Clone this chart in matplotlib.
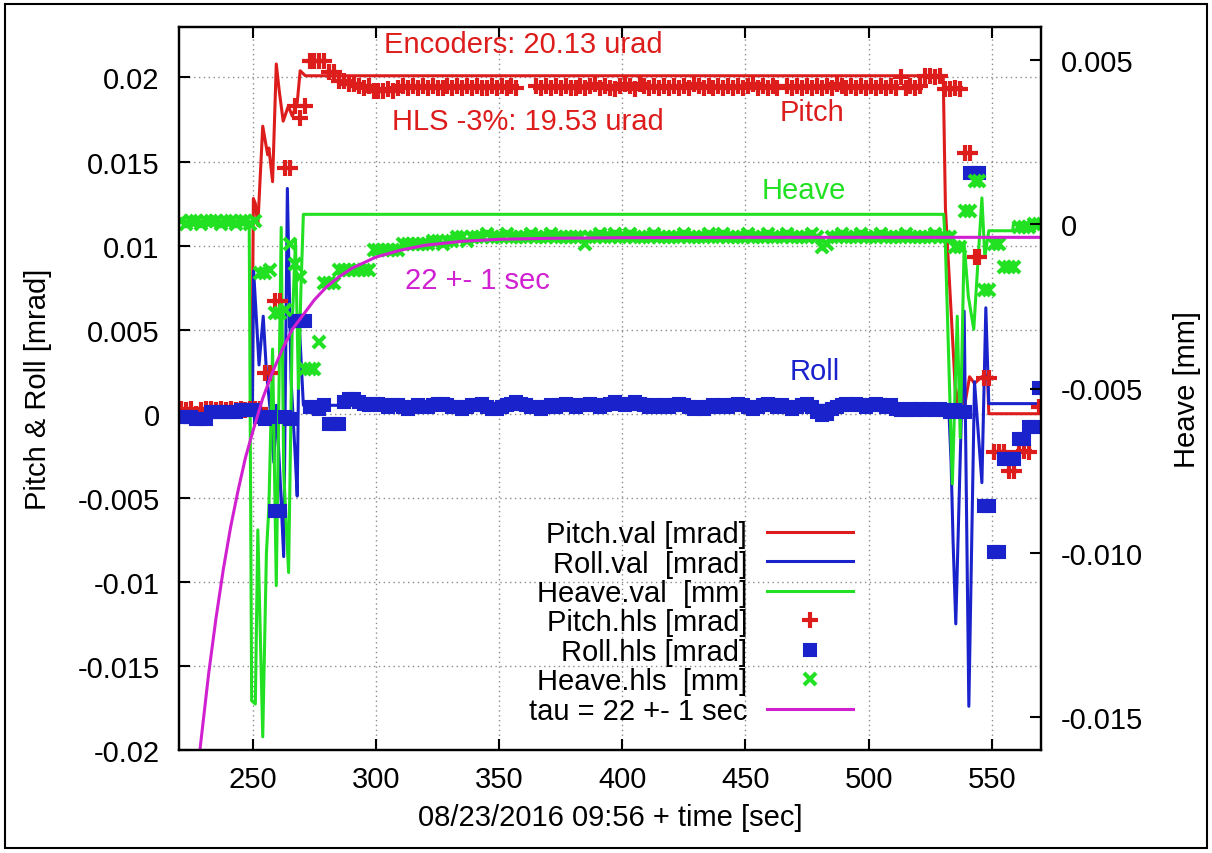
import numpy as np
import matplotlib
matplotlib.use("Agg")
import matplotlib.pyplot as plt
from matplotlib.patches import Rectangle

plt.rcParams['font.family'] = ['Liberation Sans', 'DejaVu Sans']

nan = np.nan

# encoder values (lines), pitch & roll in urad, heave in um
pitch_val_t = [220, 249.5, 250.2, 251, 252, 254, 256, 256.5, 258, 259.5, 260.7, 262.3,
               264.4, 266, 268, 269.2, 271.3, 530.3, 531.2, 534.6, 535.5, 537.5, 539,
               541, 543, 546, 548.3, 548.8, 570]
pitch_val = [0.0, 0.0, 12.8, 12.5, 11.2, 17.1, 15.4, 15.8, 13.8, 20.8, 19.2, 17.4,
             18.3, 17.7, 18.5, 20.4, 20.1, 20.1, 12.2, 3.1, 0.5, 2.0, 0.5,
             2.2, 1.8, 2.2, 2.3, 0.0, 0.0]

roll_val_t = [220, 249.8, 250.3, 252.5, 254.2, 255.5, 257.5, 258.5, 259.5, 261, 262.5,
              264, 265.5, 267, 268, 268.8, 270.5, 532.5, 533.5, 534.3, 535.4, 538.8,
              540.7, 543, 546, 547.6, 548.8, 570]
roll_val = [0.2, 0.2, 8.5, 2.9, 5.8, 2.5, -0.5, -2.9, 0.5, -3.7, -8.5,
            13.4, 2.0, -2.0, -4.9, 5.4, 0.5, 0.5, -2.9, -7.6, -12.5, 6.1,
            -17.4, 1.9, -4.1, 6.3, 0.6, 0.6]

heave_val_t = [220, 248.5, 249.5, 251, 252, 254, 255.5, 256.5, 258, 259.5, 261.5, 262.5,
               264.5, 266, 267.3, 268.5, 269.5, 270.5, 530.5, 531.2, 534, 536, 537.2,
               538.8, 540.5, 542.7, 546, 547.2, 548.8, 558.5, 558.8, 570]
heave_val = [0.1, 0.1, -14.5, -14.6, -9.3, -15.6, -10.0, -8.6, -3.8, -11.0, -0.1, -7.5,
             -10.6, -3.0, -0.5, -5.0, -2.0, 0.3, 0.3, -0.7, -7.9, -2.8, -6.5,
             -0.6, -2.2, -3.2, 0.8, -1.0, -0.2, -0.2, 0.0, 0.0]

# HLS samples, one every 2 s from 221 to 569
hls_t = np.arange(221, 570, 2)

pitch_hls = [
    0.3, 0.2, 0.3, 0.0, 0.2, 0.3, 0.3, 0.2, 0.3, 0.2,            # 221-239
    0.3, 0.2, 0.3, 0.2, 0.3, 0.3, 0.3, 2.4, 2.4, 6.7,            # 241-259
    6.7, 14.6, 14.6, 18.3, 17.6, 18.3, 21.0, 21.0, 21.0, 21.0,   # 261-279
    20.3, 20.3, 19.8, 19.8, 19.6, 19.6, 19.5, 19.4, 19.5, 19.2,  # 281-299
    19.2, 19.2, 19.3, 19.2, 19.4, 19.5, 19.4, 19.5, 19.4, 19.5,  # 301-319
    19.4, 19.5, 19.4, 19.4, 19.5, 19.4, 19.5, 19.4, 19.5, 19.4,  # 321-339
    19.5, 19.4, 19.4, 19.5, 19.4, 19.5, 19.4, 19.5, 19.4, nan,   # 341-359
    nan, nan, 19.5, 19.4, 19.5, 19.4, 19.5, 19.4, 19.5, 19.4,    # 361-379
    19.4, 19.5, 19.4, 19.5, 19.6, 19.4, 19.5, 19.4, 19.3, 19.5,  # 381-399
    19.6, 19.5, 19.3, 19.6, 19.5, 19.4, 19.5, 19.4, 19.5, 19.4,  # 401-419
    19.5, 19.4, 19.5, 19.4, 19.6, 19.5, 19.4, 19.5, 19.4, 19.5,  # 421-439
    19.4, 19.5, 19.4, 19.5, 19.4, 19.5, 19.6, 19.4, 19.5, 19.4,  # 441-459
    19.5, 19.4, nan, 19.5, 19.4, 19.5, 19.4, 19.5, 19.4, 19.5,   # 461-479
    19.4, 19.5, 19.4, 19.6, 19.5, 19.4, 19.5, 19.4, 19.5, 19.4,  # 481-499
    19.5, 19.4, 19.5, 19.4, 19.5, 19.4, 20.0, 19.4, 19.5, 19.4,  # 501-519
    19.5, 20.1, 20.1, 20.0, 20.1, 19.3, 19.3, 19.4, 19.3, 15.5,  # 521-539
    15.5, 9.3, 9.3, 2.1, 2.1, -2.3, -2.3, -2.3, -3.4, -3.4,      # 541-559
    -2.3, -2.2, -2.3, nan, 0.4,                                  # 561-569
]

roll_hls = [
    -0.2, -0.2, -0.2, -0.3, -0.3, -0.3, 0.1, 0.1, 0.1, 0.1,      # 221-239
    0.1, 0.1, 0.2, 0.2, 0.2, 0.2, -0.2, -0.3, -0.2, -5.8,        # 241-259
    -5.8, -0.2, -0.3, 5.5, 5.5, 5.5, 0.4, 0.4, 0.3, 0.5,         # 261-279
    -0.6, -0.6, -0.6, 0.7, 0.9, 0.9, 0.7, 0.6, 0.5, 0.6,         # 281-299
    0.6, 0.5, 0.4, 0.5, 0.5, 0.4, 0.3, 0.4, 0.5, 0.4,            # 301-319
    0.4, 0.5, 0.6, 0.6, 0.5, 0.4, 0.4, 0.3, 0.4, 0.5,            # 321-339
    0.5, 0.6, 0.4, 0.3, 0.3, 0.4, 0.5, 0.6, 0.7, 0.6,            # 341-359
    0.5, 0.4, 0.4, 0.3, 0.4, 0.5, 0.4, 0.5, 0.6, 0.5,            # 361-379
    0.4, 0.5, 0.5, 0.6, 0.5, 0.4, 0.5, 0.6, 0.7, 0.6,            # 381-399
    0.5, 0.6, 0.7, 0.6, 0.5, 0.4, 0.5, 0.4, 0.5, 0.4,            # 401-419
    0.5, 0.6, 0.5, 0.4, 0.3, 0.4, 0.3, 0.4, 0.5, 0.4,            # 421-439
    0.5, 0.4, 0.5, 0.6, 0.5, 0.4, 0.3, 0.4, 0.5, 0.6,            # 441-459
    0.5, 0.4, 0.5, 0.4, 0.3, 0.4, 0.5, 0.6, 0.4, 0.1,            # 461-479
    -0.1, 0.0, 0.3, 0.4, 0.5, 0.6, 0.5, 0.6, 0.5, 0.4,           # 481-499
    0.5, 0.6, 0.5, 0.4, 0.5, 0.3, 0.2, 0.2, 0.3, 0.2,            # 501-519
    0.3, 0.2, 0.3, 0.2, 0.3, 0.2, 0.1, 0.2, 0.1, 0.1,            # 521-539
    14.3, 14.3, 14.3, -5.5, -5.5, -8.2, -8.2, -2.7, -2.7, -2.7,  # 541-559
    -1.5, -1.5, -0.8, -0.8, 1.5,                                 # 561-569
]

heave_hls = [
    0.1, 0.0, 0.1, 0.1, 0.0, 0.1, 0.1, 0.1, 0.0, 0.1,            # 221-239
    0.1, 0.0, 0.1, 0.1, 0.0, 0.1, -1.5, -1.5, -1.4, -2.7,        # 241-259
    -2.7, -2.6, -0.6, -1.2, -1.6, -4.4, -4.4, -4.4, -3.6, -1.8,  # 261-279
    -1.8, -1.8, -1.4, -1.4, -1.4, -1.4, -1.4, -1.4, -1.4, -0.8,  # 281-299
    -0.8, -0.8, -0.8, -0.8, -0.8, -0.6, -0.6, -0.6, -0.6, -0.6,  # 301-319
    -0.6, -0.5, -0.5, -0.6, -0.5, -0.5, -0.4, -0.4, -0.5, -0.4,  # 321-339
    -0.4, -0.4, -0.3, -0.4, -0.4, -0.4, -0.3, -0.4, -0.4, -0.4,  # 341-359
    -0.4, -0.3, -0.4, -0.4, -0.4, -0.3, -0.4, -0.4, -0.4, -0.4,  # 361-379
    -0.4, -0.4, -0.6, -0.4, -0.4, -0.3, -0.4, -0.4, -0.3, -0.4,  # 381-399
    -0.4, -0.3, -0.4, -0.4, -0.4, -0.4, -0.3, -0.4, -0.4, -0.4,  # 401-419
    -0.4, -0.4, -0.3, -0.4, -0.4, -0.4, -0.4, -0.3, -0.4, -0.4,  # 421-439
    -0.3, -0.4, -0.4, -0.4, -0.4, -0.3, -0.4, -0.4, -0.4, -0.3,  # 441-459
    -0.4, -0.4, -0.4, -0.3, -0.4, -0.4, -0.4, -0.4, -0.3, -0.4,  # 461-479
    -0.7, -0.6, -0.4, -0.4, -0.3, -0.4, -0.4, -0.4, -0.3, -0.4,  # 481-499
    -0.4, -0.4, -0.3, -0.4, -0.4, -0.4, -0.4, -0.3, -0.4, -0.4,  # 501-519
    -0.4, -0.4, -0.4, -0.3, -0.4, -0.4, -0.4, -0.7, -0.7, 0.4,   # 521-539
    0.4, 1.3, 1.3, -2.0, -2.0, -0.6, -0.6, -1.3, -1.3, -1.3,     # 541-559
    -0.1, -0.1, -0.1, 0.0, 0.0,                                  # 561-569
]

# exponential fit drawn through the heave hls points (um)
fit_t = [228.5, 232, 235, 238, 241, 244, 247, 250, 254, 258, 262, 266, 270, 275,
         280, 285, 290, 300, 310, 320, 335, 350, 370, 400, 450, 570]
fit_v = [-16.0, -13.7, -12.0, -10.5, -9.2, -8.1, -7.1, -6.3, -5.3, -4.5, -3.8, -3.2,
         -2.8, -2.3, -1.9, -1.6, -1.35, -1.0, -0.79, -0.64, -0.52, -0.46, -0.43,
         -0.41, -0.40, -0.40]

RED = '#dd1c1c'
BLUE = '#1a22cc'
GREEN = '#22e022'
MAGENTA = '#d020d0'
FS = 21

fig = plt.figure(figsize=(12.12, 8.54), dpi=100)
ax = fig.add_axes([179 / 1212, 103 / 854, 862 / 1212, 723 / 854])
ax2 = ax.twinx()

ax.set_xlim(220, 570)
ax.set_ylim(-0.02, 0.023)
ax2.set_ylim(-0.016, 0.006)

k = 1e-3  # urad -> mrad, um -> mm
htr = ax2.transData  # heave on the right scale, but kept in ax for draw order

ax.plot(pitch_val_t, np.array(pitch_val) * k, color=RED, lw=2.2, label='Pitch.val [mrad]')
ax.plot(roll_val_t, np.array(roll_val) * k, color=BLUE, lw=2.2, label='Roll.val  [mrad]')
ax.plot(heave_val_t, np.array(heave_val) * k, color=GREEN, lw=2.2, transform=htr,
        label='Heave.val  [mm]')
ax.plot(hls_t, np.array(pitch_hls) * k, ls='none', marker='+', ms=11, mew=3,
        color=RED, label='Pitch.hls [mrad]')
ax.plot(hls_t, np.array(roll_hls) * k, ls='none', marker='s', ms=8, mew=1.5,
        color=BLUE, label='Roll.hls [mrad]')
ax.plot(hls_t, np.array(heave_hls) * k, ls='none', marker='x', ms=9, mew=3,
        color=GREEN, transform=htr, label='Heave.hls  [mm]')
ax.plot(fit_t, np.array(fit_v) * k, color=MAGENTA, lw=2.2, transform=htr,
        label='tau = 22 +- 1 sec')

ax.set_xlim(220, 570)
ax.set_ylim(-0.02, 0.023)

# ticks / grid
ax.set_xticks([250, 300, 350, 400, 450, 500, 550])
yt = [0.02, 0.015, 0.01, 0.005, 0, -0.005, -0.01, -0.015, -0.02]
ax.set_yticks(yt)
ax.set_yticklabels(['0.02', '0.015', '0.01', '0.005', '0', '-0.005', '-0.01', '-0.015', '-0.02'])
ax2.set_yticks([0.005, 0, -0.005, -0.010, -0.015])
ax2.set_yticklabels(['0.005', '0', '-0.005', '-0.010', '-0.015'])

ax.tick_params(axis='x', direction='in', length=8, width=1.5, labelsize=FS, top=True, pad=11)
ax.tick_params(axis='y', direction='in', length=8, width=1.5, labelsize=FS, right=False, pad=14)
ax2.tick_params(axis='y', direction='in', length=8, width=1.5, labelsize=FS, pad=14)
ax.grid(True, color='#8c8c8c', ls=(0, (1, 2.5)), lw=1.0)
ax.set_axisbelow(True)
for a in (ax, ax2):
    for s in a.spines.values():
        s.set_linewidth(1.6)

ax.set_xlabel('08/23/2016 09:56 + time [sec]', fontsize=FS)
ax.xaxis.set_label_coords(0.5, -0.073)
ax.set_ylabel('Pitch & Roll [mrad]', fontsize=FS)
ax.yaxis.set_label_coords(-0.147, 0.5)
ax2.set_ylabel('Heave [mm]', fontsize=FS)
ax2.yaxis.set_label_coords(1.153, 0.5)

# labels inside the plot
ax.text(0.400, 0.9765, 'Encoders: 20.13 urad', color=RED, fontsize=FS,
        ha='center', va='center', transform=ax.transAxes)
ax.text(0.405, 0.870, 'HLS -3%: 19.53 urad', color=RED, fontsize=FS,
        ha='center', va='center', transform=ax.transAxes)
ax.text(0.734, 0.882, 'Pitch', color=RED, fontsize=FS, ha='center', va='center',
        transform=ax.transAxes)
ax.text(0.725, 0.775, 'Heave', color=GREEN, fontsize=FS, ha='center', va='center',
        transform=ax.transAxes)
ax.text(0.346, 0.650, '22 +- 1 sec', color=MAGENTA, fontsize=FS, ha='center',
        va='center', transform=ax.transAxes)
ax.text(0.737, 0.524, 'Roll', color=BLUE, fontsize=FS, ha='center', va='center',
        transform=ax.transAxes)

ax.legend(loc='upper right', bbox_to_anchor=(0.782, 0.318), fontsize=FS, frameon=False,
          markerfirst=False, borderpad=0, borderaxespad=0, handlelength=2.95,
          handletextpad=0.68, labelspacing=0.05, numpoints=1)

# outer frame of the picture
fig.patches.append(Rectangle((5 / 1212, 5 / 854), 1202 / 1212, 844 / 854, fill=False,
                             ec='black', lw=1.5, transform=fig.transFigure))

fig.savefig('out.png', dpi=100)
